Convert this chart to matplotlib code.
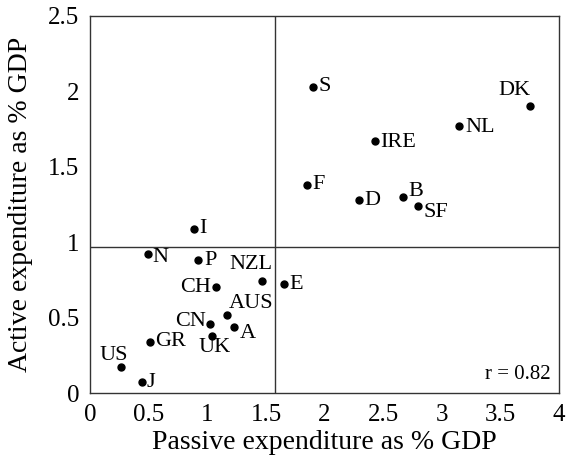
import matplotlib.pyplot as plt

plt.rcParams['font.family'] = ['Liberation Serif', 'DejaVu Serif']

# spending on labour market programmes, % of GDP
countries = ['S', 'DK', 'NL', 'IRE', 'F', 'D', 'B', 'SF', 'I', 'N', 'P',
             'NZL', 'E', 'CH', 'AUS', 'CN', 'A', 'UK', 'GR', 'US', 'J']
passive = [1.90, 3.75, 3.15, 2.43, 1.85, 2.29, 2.67, 2.80, 0.89, 0.49, 0.92,
           1.47, 1.65, 1.07, 1.17, 1.02, 1.23, 1.04, 0.51, 0.26, 0.44]
active = [2.03, 1.90, 1.77, 1.67, 1.38, 1.28, 1.30, 1.24, 1.09, 0.92, 0.88,
          0.74, 0.72, 0.70, 0.52, 0.46, 0.44, 0.38, 0.34, 0.17, 0.07]
passive_mean = 1.58
active_mean = 0.97
r_value = 0.82

# label placement: (dx, dy) in pixels, ha, va
offsets = {
    'S': (6, 0, 'left', 'center'),
    'DK': (1, 6, 'right', 'bottom'),
    'NL': (6, -1, 'left', 'center'),
    'IRE': (5, -1, 'left', 'center'),
    'F': (5, 0, 'left', 'center'),
    'D': (6, -1, 'left', 'center'),
    'B': (5, 5, 'left', 'center'),
    'SF': (5, -6, 'left', 'center'),
    'I': (5, 0, 'left', 'center'),
    'N': (5, -3, 'left', 'center'),
    'P': (6, 0, 'left', 'center'),
    'NZL': (10, 7, 'right', 'bottom'),
    'E': (6, 0, 'left', 'center'),
    'CH': (-5, 0, 'right', 'center'),
    'AUS': (1, 2, 'left', 'bottom'),
    'CN': (-4, 2, 'right', 'center'),
    'A': (5, -7, 'left', 'center'),
    'UK': (3, -12, 'center', 'center'),
    'GR': (5, 0, 'left', 'center'),
    'US': (-7, 12, 'center', 'center'),
    'J': (5, 0, 'left', 'center'),
}

fig = plt.figure(figsize=(5.67, 4.57), dpi=100)
ax = fig.add_axes([0.159, 0.140, 0.827, 0.825])

ax.plot(passive, active, 'o', color='black', markersize=5)
for name, x, y in zip(countries, passive, active):
    dx, dy, ha, va = offsets[name]
    ax.annotate(name, (x, y), xytext=(dx, dy), textcoords='offset pixels',
                ha=ha, va=va, fontsize=16)

ax.axvline(passive_mean, color='#333333', lw=1)
ax.axhline(active_mean, color='#333333', lw=1)

ax.text(0.982, 0.025, 'r = %.2f' % r_value, transform=ax.transAxes,
        ha='right', va='bottom', fontsize=15)

ax.set_xlim(0, 4)
ax.set_ylim(0, 2.5)
ax.set_xticks([0, 0.5, 1, 1.5, 2, 2.5, 3, 3.5, 4])
ax.set_xticklabels(['0', '0.5', '1', '1.5', '2', '2.5', '3', '3.5', '4'])
ax.set_yticks([0, 0.5, 1, 1.5, 2, 2.5])
ax.set_yticklabels(['0', '0.5', '1', '1.5', '2', '2.5'])
ax.tick_params(length=0, labelsize=18)
ax.tick_params(axis='x', pad=8)
ax.tick_params(axis='y', pad=8)
for s in ax.spines.values():
    s.set_color('#333333')
    s.set_linewidth(1)

ax.set_xlabel('Passive expenditure as % GDP', fontsize=20, labelpad=3)
ax.set_ylabel('Active expenditure as % GDP', fontsize=20, labelpad=11)

fig.savefig('out.png', dpi=100)
